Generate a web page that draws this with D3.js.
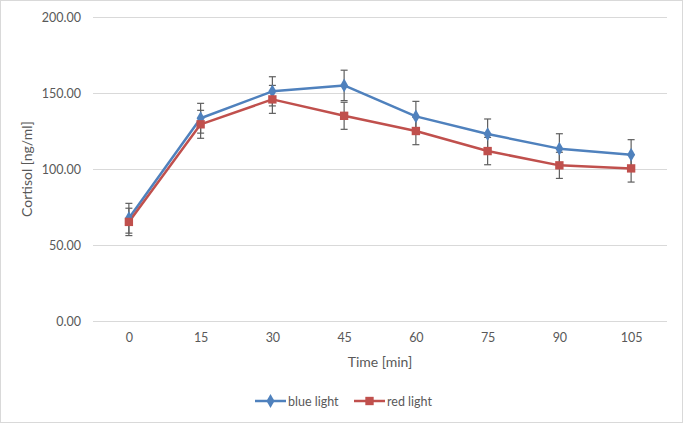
<!DOCTYPE html>
<html><head><meta charset="utf-8">
<script src="https://cdn.jsdelivr.net/npm/d3@7"></script>
<style>body{margin:0;background:#fff}svg{display:block}text{font-family:Lato,"Open Sans",sans-serif}</style>
</head><body><svg id="c" width="684" height="424"></svg>
<script>
const times = ["0","15","30","45","60","75","90","105"];
const blueLight = [67.6, 133.4, 151.1, 155.0, 134.6, 123.0, 113.4, 109.4];
const blueErr   = [9.8, 9.8, 9.6, 10.0, 9.9, 9.9, 9.8, 9.9];
const redLight  = [65.2, 129.4, 145.8, 135.0, 125.0, 111.8, 102.4, 100.4];
const redErr    = [9.0, 9.2, 9.2, 8.9, 9.0, 9.0, 8.6, 9.0];
const yTicks = [0, 50, 100, 150, 200];

const svg = d3.select("#c");
const L = 93, R = 667, T = 17, B = 321;
const x = d3.scalePoint().domain(times).range([L, R]).padding(0.5);
const y = d3.scaleLinear().domain([0, 200]).range([B, T]);

svg.append("rect").attr("x",0.5).attr("y",0.5).attr("width",682).attr("height",422)
  .attr("fill","#fff").attr("stroke","#d9d9d9");

// grid
const yAxis = d3.axisLeft(y).tickValues(yTicks).tickSize(-(R-L)).tickFormat(d3.format(".2f")).tickPadding(12);
const gy = svg.append("g").attr("transform",`translate(${L},0)`).call(yAxis);
gy.select(".domain").remove();
gy.selectAll("line").attr("stroke","#d9d9d9");
gy.selectAll("text").attr("fill","#595959").style("font-size","12.5px");

const xAxis = d3.axisBottom(x).tickSize(0).tickPadding(12);
const gx = svg.append("g").attr("transform",`translate(0,${B})`).call(xAxis);
gx.select(".domain").remove();
gx.selectAll("text").attr("fill","#595959").style("font-size","12.5px");

svg.append("text").attr("x",(L+R)/2).attr("y",366.5).attr("text-anchor","middle")
  .attr("fill","#595959").style("font-size","14px").text("Time [min]");
svg.append("text").attr("transform",`translate(32,${(T+B)/2}) rotate(-90)`).attr("text-anchor","middle")
  .attr("fill","#595959").style("font-size","14px").text("Cortisol [ng/ml]");

const series = [
  {name:"blue light", vals:blueLight, err:blueErr, color:"#4f81bd", shape:d3.symbolDiamond, size:55},
  {name:"red light", vals:redLight, err:redErr, color:"#c0504d", shape:d3.symbolSquare, size:70}
];
const line = d3.line().x((d,i)=>x(times[i])).y(d=>y(d));
series.forEach(s=>{
  svg.append("path").datum(s.vals).attr("d",line).attr("fill","none")
    .attr("stroke",s.color).attr("stroke-width",2.5).attr("stroke-linejoin","round");
});
series.forEach(s=>{
  const g = svg.append("g").attr("stroke","#5f5f5f").attr("stroke-width",1.2);
  s.vals.forEach((v,i)=>{
    const cx = x(times[i]);
    g.append("line").attr("x1",cx).attr("x2",cx).attr("y1",y(v+s.err[i])).attr("y2",y(v-s.err[i]));
    [v+s.err[i], v-s.err[i]].forEach(e=>{
      g.append("line").attr("x1",cx-3.5).attr("x2",cx+3.5).attr("y1",y(e)).attr("y2",y(e));
    });
  });
});
series.forEach(s=>{
  svg.append("g").selectAll("path").data(s.vals).join("path")
    .attr("transform",(d,i)=>`translate(${x(times[i])},${y(d)})`)
    .attr("d",d3.symbol().type(s.shape).size(s.size)).attr("fill",s.color);
});

// legend
const leg = [{s:series[0], x0:255}, {s:series[1], x0:354}];
leg.forEach(o=>{
  const g = svg.append("g");
  g.append("line").attr("x1",o.x0).attr("x2",o.x0+31).attr("y1",401).attr("y2",401)
    .attr("stroke",o.s.color).attr("stroke-width",2.5);
  g.append("path").attr("transform",`translate(${o.x0+15.5},401)`)
    .attr("d",d3.symbol().type(o.s.shape).size(o.s.size)).attr("fill",o.s.color);
  g.append("text").attr("x",o.x0+33).attr("y",405.5).attr("fill","#595959")
    .style("font-size","12.5px").text(o.s.name);
});
</script></body></html>
